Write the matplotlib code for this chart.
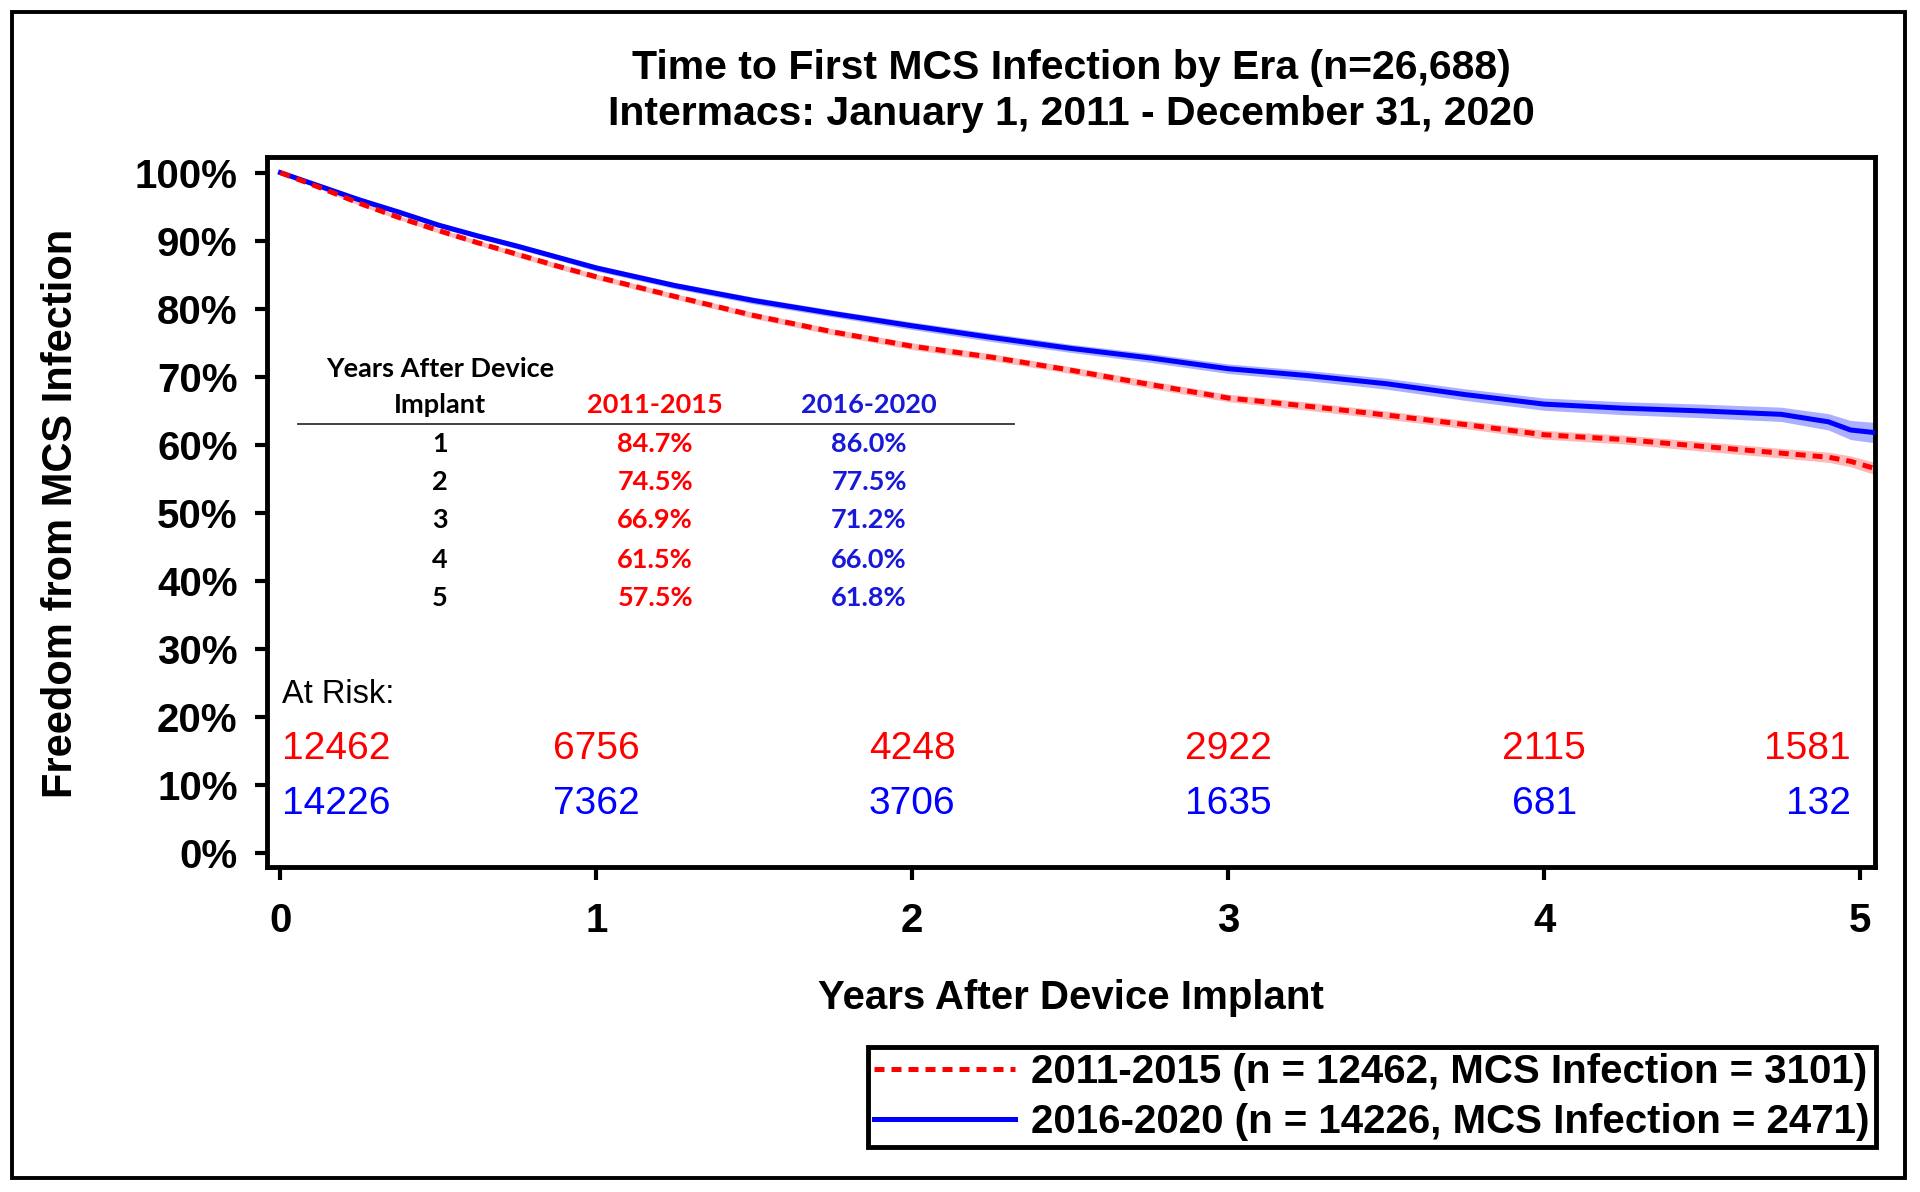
import matplotlib
matplotlib.use("Agg")
import matplotlib.pyplot as plt
from matplotlib.patches import Rectangle
import numpy as np

plt.rcParams['font.family'] = ['Liberation Sans', 'DejaVu Sans']

# Kaplan-Meier estimates (years, % free from infection)
years = [0, 0.125, 0.25, 0.375, 0.5, 0.625, 0.75, 0.875, 1.0, 1.25, 1.5, 1.75, 2.0,
         2.25, 2.5, 2.75, 3.0, 3.25, 3.5, 3.75, 4.0, 4.25, 4.5, 4.75, 4.9, 4.97, 5.05]
surv_early = [100, 97.8, 95.5, 93.4, 91.5, 89.7, 88.0, 86.3, 84.7, 81.8, 79.0, 76.6, 74.5,
              72.9, 71.0, 68.9, 66.9, 65.7, 64.4, 63.0, 61.5, 60.8, 59.8, 58.8, 58.2, 57.6, 56.5]
surv_late = [100, 98.0, 96.0, 94.2, 92.3, 90.7, 89.2, 87.6, 86.0, 83.4, 81.2, 79.3, 77.5,
             75.8, 74.2, 72.8, 71.2, 70.2, 69.0, 67.4, 66.0, 65.4, 65.0, 64.5, 63.4, 62.2, 61.8]
# half-width of the shaded confidence band (% points)
ci_early = [0, 0.2, 0.3, 0.3, 0.35, 0.35, 0.4, 0.4, 0.4, 0.4, 0.45, 0.45, 0.5,
            0.5, 0.5, 0.55, 0.55, 0.6, 0.6, 0.6, 0.65, 0.65, 0.7, 0.7, 0.75, 0.8, 0.9]
ci_late = [0, 0.2, 0.3, 0.3, 0.35, 0.35, 0.4, 0.4, 0.45, 0.45, 0.5, 0.5, 0.55,
           0.6, 0.6, 0.65, 0.7, 0.75, 0.8, 0.85, 0.9, 0.95, 1.0, 1.05, 1.2, 1.4, 1.5]

era_labels = ['2011-2015 (n = 12462, MCS Infection = 3101)',
              '2016-2020 (n = 14226, MCS Infection = 2471)']

# inset table
table_years = [1, 2, 3, 4, 5]
table_early = ['84.7%', '74.5%', '66.9%', '61.5%', '57.5%']
table_late = ['86.0%', '77.5%', '71.2%', '66.0%', '61.8%']

# numbers at risk
risk_years = [0, 1, 2, 3, 4, 5]
risk_early = [12462, 6756, 4248, 2922, 2115, 1581]
risk_late = [14226, 7362, 3706, 1635, 681, 132]

RED = '#ff0000'
BLUE = '#0000ff'
TBLUE = '#1818d8'

fig = plt.figure(figsize=(19.2, 11.92), dpi=100)
ax = fig.add_axes([0.139, 0.2727, 0.8375, 0.5956])

yrs = np.array(years)
se, sl = np.array(surv_early), np.array(surv_late)
ax.fill_between(yrs, sl - ci_late, sl + ci_late, color='#aab0ff', lw=0, zorder=1)
ax.fill_between(yrs, se - ci_early, se + ci_early, color='#ffb8b8', lw=0, zorder=1)
ax.plot(yrs, sl, color=BLUE, lw=3.6, label=era_labels[1], zorder=3)
ax.plot(yrs, se, color=RED, lw=3.6, ls=(0, (2, 1.4)), label=era_labels[0], zorder=4)

ax.set_xlim(-0.043, 5.047)
ax.set_ylim(-1.98, 102.3)
ax.set_xticks(range(6))
ax.set_yticks(range(0, 101, 10))
ax.set_yticklabels([f'{v}%' for v in range(0, 101, 10)])
for s in ax.spines.values():
    s.set_linewidth(3.5)
ax.tick_params(axis='both', which='major', direction='out', length=9, width=3,
               labelsize=29, top=False, right=False)
ax.tick_params(axis='x', pad=16)
ax.tick_params(axis='y', pad=12)
for lab in ax.get_xticklabels() + ax.get_yticklabels():
    lab.set_fontweight('bold')

# inset table
tfont = ['Lato', 'DejaVu Sans']
tsize = 19.5
cols = [0.505, 1.186, 1.863]
ax.text(cols[0], 71.2, 'Years After Device', ha='center', va='center',
        fontsize=tsize, fontweight='bold', family=tfont)
ax.text(cols[0], 65.9, 'Implant', ha='center', va='center',
        fontsize=tsize, fontweight='bold', family=tfont)
ax.text(cols[1], 65.9, '2011-2015', ha='center', va='center',
        fontsize=tsize, fontweight='bold', family=tfont, color=RED)
ax.text(cols[2], 65.9, '2016-2020', ha='center', va='center',
        fontsize=tsize, fontweight='bold', family=tfont, color=TBLUE)
ax.plot([0.056, 2.322], [63.1, 63.1], color='#333333', lw=1.3, zorder=2)
row_y = [60.1, 54.6, 49.0, 43.1, 37.5]
for y, yr, a, b in zip(row_y, table_years, table_early, table_late):
    ax.text(cols[0], y, str(yr), ha='center', va='center', fontsize=tsize,
            fontweight='bold', family=tfont)
    ax.text(cols[1], y, a, ha='center', va='center', fontsize=tsize,
            fontweight='bold', family=tfont, color=RED)
    ax.text(cols[2], y, b, ha='center', va='center', fontsize=tsize,
            fontweight='bold', family=tfont, color=TBLUE)

# at-risk table
ax.text(0.004, 23.4, 'At Risk:', ha='left', va='center', fontsize=23.5)
for i, (t, a, b) in enumerate(zip(risk_years, risk_early, risk_late)):
    if i == 0:
        xx, ha = t + 0.004, 'left'
    elif i == len(risk_years) - 1:
        xx, ha = t - 0.03, 'right'
    else:
        xx, ha = t, 'center'
    ax.text(xx, 15.4, str(a), ha=ha, va='center', fontsize=28, color=RED)
    ax.text(xx, 7.3, str(b), ha=ha, va='center', fontsize=28, color=BLUE)

# titles and axis labels
fig.text(0.558, 0.943, 'Time to First MCS Infection by Era (n=26,688)',
         ha='center', va='center', fontsize=29.5, fontweight='bold')
fig.text(0.558, 0.904, 'Intermacs: January 1, 2011 - December 31, 2020',
         ha='center', va='center', fontsize=29.5, fontweight='bold')
fig.text(0.032, 0.569, 'Freedom from MCS Infection', rotation=90,
         ha='center', va='center', fontsize=30, fontweight='bold')
fig.text(0.558, 0.163, 'Years After Device Implant',
         ha='center', va='center', fontsize=29, fontweight='bold')

# legend, red first
h, l = ax.get_legend_handles_labels()
leg = fig.legend(h[::-1], l[::-1], loc='lower right', bbox_to_anchor=(0.977, 0.0378),
                 fancybox=False, edgecolor='black', framealpha=1, handlelength=3.5,
                 handletextpad=0.4, borderpad=0.15, labelspacing=0.3, borderaxespad=0,
                 prop={'size': 29, 'weight': 'bold'})
leg.get_frame().set_linewidth(3.5)

# outer frame
fig.patches.append(Rectangle((0.00625, 0.0117), 0.9858, 0.9783, transform=fig.transFigure,
                             fill=False, edgecolor='black', linewidth=2.8))

fig.savefig('out.png', dpi=100)
